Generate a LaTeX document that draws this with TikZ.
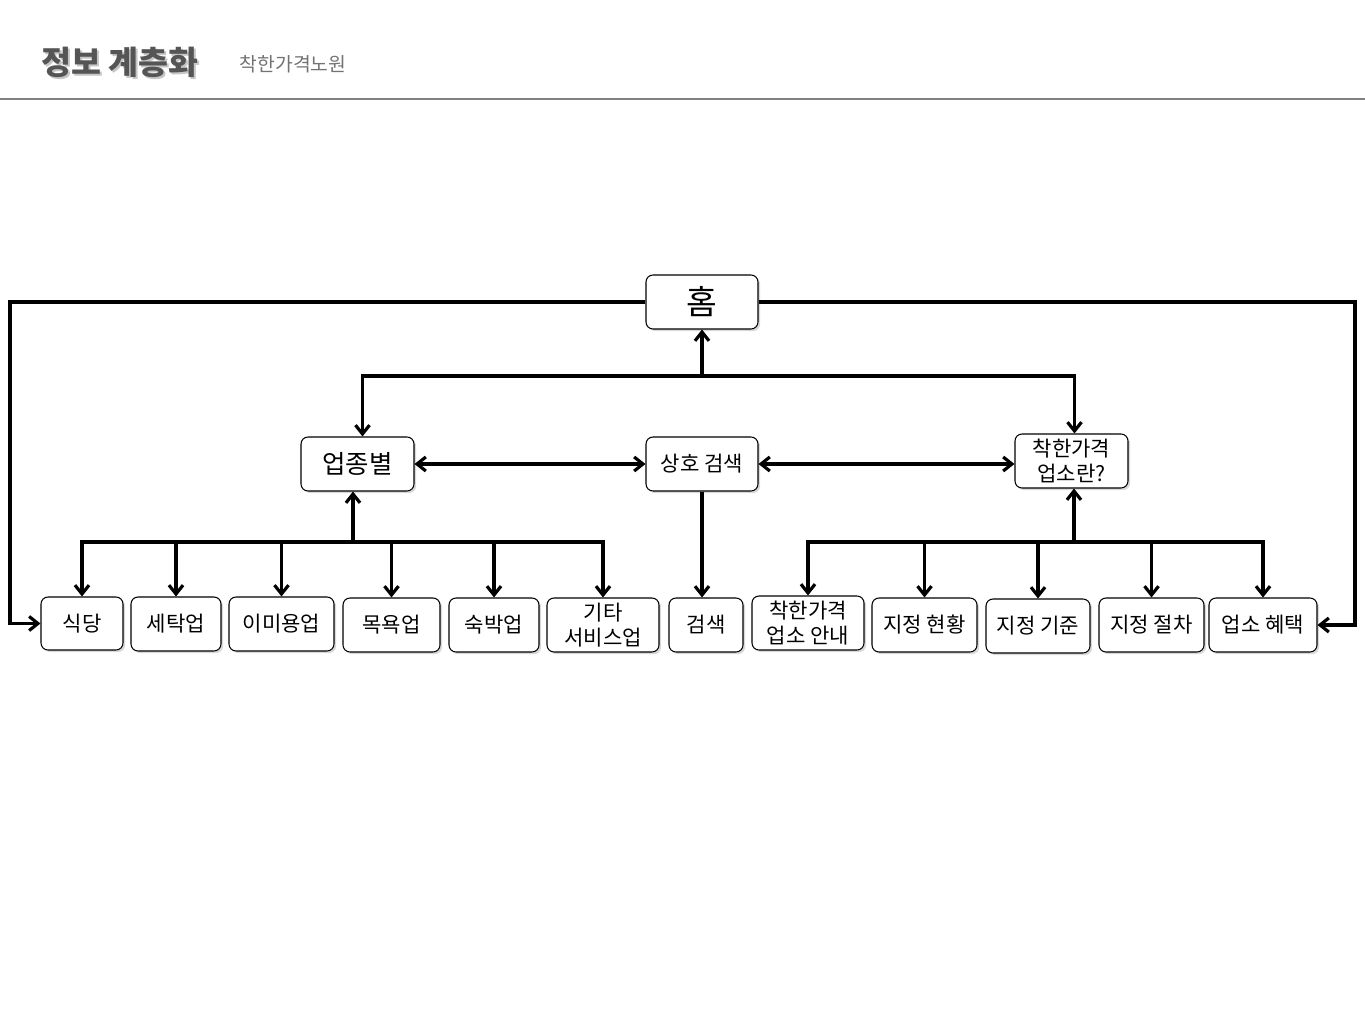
\documentclass[tikz,border=0pt]{standalone}
\usepackage{fontspec}
\newfontfamily\kr{Noto Sans CJK KR}
\usetikzlibrary{arrows.meta,shadows}
\definecolor{titlegray}{RGB}{85,85,85}
\begin{document}
\begin{tikzpicture}[x=0.02cm,y=-0.02cm,
        box/.style={draw,rounded corners=4pt,fill=white,align=center,inner sep=0pt,line width=0.6pt,
            font=\kr\fontsize{12}{14}\selectfont,
            drop shadow={shadow xshift=1.2pt,shadow yshift=-1.2pt,opacity=0.3}},
        sz/.style 2 args={minimum width=#1*0.02cm,minimum height=#2*0.02cm},
        link/.style={line width=1.8pt,>={Straight Barb[length=5pt,width=8pt]}}]
    \useasboundingbox (0,0) rectangle (1365,1024);
    \node[text=gray!45,font=\kr\bfseries\fontsize{18.5}{20}\selectfont] at (122,64) {정보 계층화};
    \node[text=titlegray,font=\kr\bfseries\fontsize{18.5}{20}\selectfont] (title) at (120,62) {정보 계층화};
    \node[text=gray!90!black,font=\kr\fontsize{11}{12}\selectfont] (sub) at (293,64) {착한가격노원};
    \draw[gray,line width=0.8pt] (0,99) -- (1365,99);

    \node[box,sz={112}{54},font=\kr\fontsize{19}{20}\selectfont] (home) at (702,302) {홈};
    \node[box,sz={113}{54},font=\kr\fontsize{14.5}{16}\selectfont] (byType) at (357.5,464) {업종별};
    \node[box,sz={112}{54}] (search) at (702,464) {상호 검색};
    \node[box,sz={113}{54}] (about) at (1071.5,461) {착한가격\\업소란?};

    \node[box,sz={82}{53}] (food) at (82,623.5) {식당};
    \node[box,sz={90}{54}] (laundry) at (176,624) {세탁업};
    \node[box,sz={105}{54}] (beauty) at (281.5,624) {이미용업};
    \node[box,sz={97}{54}] (bath) at (391.5,625) {목욕업};
    \node[box,sz={90}{54}] (lodge) at (494,625) {숙박업};
    \node[box,sz={112}{54}] (other) at (603,625) {기타\\서비스업};
    \node[box,sz={74}{54}] (find) at (706,625) {검색};
    \node[box,sz={112}{54}] (guide) at (808,623) {착한가격\\업소 안내};
    \node[box,sz={105}{54}] (status) at (924.5,625) {지정 현황};
    \node[box,sz={104}{54}] (criteria) at (1038,626) {지정 기준};
    \node[box,sz={105}{54}] (process) at (1151.5,625) {지정 절차};
    \node[box,sz={108}{54}] (benefit) at (1263,625) {업소 혜택};

    \coordinate (lft) at (10,302);
    \coordinate (rgt) at (1355,302);
    \coordinate (topbus) at (702,376);
    \coordinate (lbus) at (353,542);
    \coordinate (rbus) at (1074,542);

    \draw[link,->] (home.west) -- (lft) |- (food.west);
    \draw[link,->] (home.east) -- (rgt) |- (benefit.east);
    \draw[link,->] (topbus) -- (home.south);
    \draw[link,->] (topbus) -| ([xshift=5*0.02cm]byType.north);
    \draw[link,->] (topbus) -| ([xshift=3*0.02cm]about.north);
    \draw[link,<->] (byType.east) -- (search.west);
    \draw[link,<->] (search.east) -- (search.east -| about.west);
    \draw[link,->] (search.south) -- (search.south |- find.north);
    \draw[link,->] (lbus) -- (lbus |- byType.south);
    \foreach \n in {food,laundry,beauty,bath,lodge,other}
        \draw[link,->] (lbus) -| (\n.north);
    \draw[link,->] (rbus) -- (rbus |- about.south);
    \foreach \n in {guide,status,criteria,process,benefit}
        \draw[link,->] (rbus) -| (\n.north);
\end{tikzpicture}
\end{document}
